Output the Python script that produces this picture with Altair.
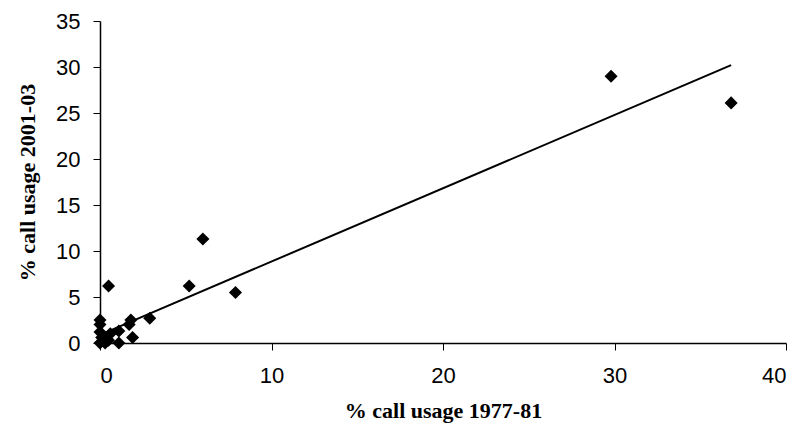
import altair as alt
import pandas as pd

# % call usage 1977-81 (x) and 2001-03 (y)
usage_1977_81 = [0.0, 0.0, 0.0, 0.1, 0.0, 0.3, 0.5, 0.6, 1.1, 1.1,
                 1.7, 1.8, 1.9, 2.9, 0.5, 5.2, 6.0, 7.9, 29.8, 36.8]
usage_2001_03 = [2.5, 2.0, 1.2, 0.6, 0.0, 0.0, 0.3, 1.0, 1.3, 0.0,
                 2.0, 2.5, 0.6, 2.7, 6.2, 6.2, 11.3, 5.5, 29.0, 26.1]

# Linear trend line (endpoints in data units)
trend_x = [0.2, 36.8]
trend_y = [1.05, 30.2]

x_ticks = [0, 10, 20, 30, 40]
y_ticks = [0, 5, 10, 15, 20, 25, 30, 35]

pts = pd.DataFrame({"x": usage_1977_81, "y": usage_2001_03})
trend = pd.DataFrame({"x": trend_x, "y": trend_y})

common = dict(
    grid=False, domainColor="black", domainWidth=1.5, tickColor="black",
    tickSize=7, tickWidth=1, labelFontSize=22, labelFont="Liberation Sans",
    labelColor="black", titleFont="Liberation Serif",
    titleFontSize=22, titleFontWeight="bold", titleColor="black",
)

x_enc = alt.X(
    "x:Q",
    scale=alt.Scale(domain=[0, 40], nice=False, zero=True),
    axis=alt.Axis(values=x_ticks, title="% call usage 1977-81",
                  labelPadding=15, titlePadding=14, **common),
)
y_enc = alt.Y(
    "y:Q",
    scale=alt.Scale(domain=[0, 35], nice=False, zero=True),
    axis=alt.Axis(values=y_ticks, title="% call usage 2001-03",
                  labelPadding=13, titlePadding=16, **common),
)

points = alt.Chart(pts).mark_point(
    shape="diamond", filled=True, color="black", size=170, opacity=1
).encode(x=x_enc, y=y_enc)

line = alt.Chart(trend).mark_line(color="black", strokeWidth=2).encode(
    x=alt.X("x:Q"), y=alt.Y("y:Q")
)

chart = (
    alt.layer(line, points)
    .properties(
        width=686,
        height=322,
        autosize=alt.AutoSizeParams(type="none"),
        padding={"left": 92, "top": 13, "right": 8, "bottom": 83},
        background="white",
    )
    .configure_view(stroke=None)
)

chart.save("out.html", embed_options={"renderer": "svg", "actions": False})
